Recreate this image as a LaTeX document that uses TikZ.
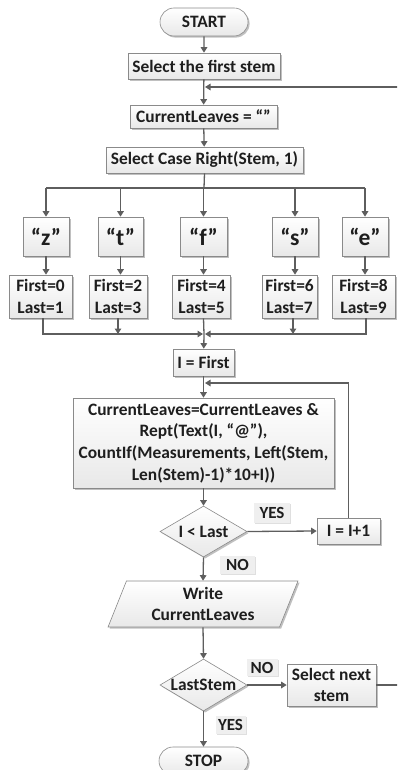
\documentclass[tikz,border=0pt]{standalone}
\usepackage{fontspec}
\setmainfont{Carlito}
\usetikzlibrary{arrows.meta,shapes.geometric,shapes.misc,shadows}
\definecolor{wire}{HTML}{5E5E5E}
\definecolor{edge}{HTML}{8A8A8A}
\definecolor{ink}{HTML}{1E1E1E}
\definecolor{tagfill}{HTML}{EFEFEF}
\tikzset{
  base/.style={draw=edge, line width=0.6pt, top color=white, bottom color=black!9,
    text=ink, font=\bfseries\fontsize{17.4}{21.7}\selectfont, align=center,
    inner sep=0pt,
    drop shadow={shadow xshift=1.6pt, shadow yshift=-1.6pt, fill=black!45, opacity=0.55}},
  proc/.style={base, rectangle},
  term/.style={base, rounded rectangle},
  decide/.style={base, diamond, aspect=1.7},
  io/.style={base, trapezium, trapezium left angle=70, trapezium right angle=110,
    trapezium stretches=true},
  quote/.style={proc, font=\bfseries\fontsize{23.5}{26}\selectfont},
  tag/.style={fill=tagfill, text=ink, inner sep=0pt, font=\bfseries\fontsize{17}{19}\selectfont,
    drop shadow={shadow xshift=1pt, shadow yshift=-1pt, fill=black!25, opacity=0.5}},
  flow/.style={draw=wire, line width=1.3pt, -{Triangle[width=6.5pt,length=5.5pt]}},
  wireline/.style={draw=wire, line width=1.3pt},
}
\begin{document}
\begin{tikzpicture}[x=1pt, y=-1pt]
\useasboundingbox (0,0) rectangle (397,770);
\begin{scope}
\clip (0,0) rectangle (397,770);

% main column
\node[term, minimum width=88, minimum height=28] (start) at (204,22) {START};
\node[proc, minimum width=152, minimum height=26] (first) at (204,66) {Select the first stem};
\node[proc, minimum width=147, minimum height=23] (curl) at (203.5,116.5) {CurrentLeaves = “”};
\node[proc, minimum width=197, minimum height=26] (selcase) at (204.5,160) {Select Case Right(Stem, 1)};

% case branches
\node[quote, minimum width=46, minimum height=39] (qz) at (46,236.5) {“z”};
\node[quote, minimum width=45, minimum height=39] (qt) at (120.5,236.5) {“t”};
\node[quote, minimum width=47, minimum height=39] (qf) at (203.5,236.5) {“f”};
\node[quote, minimum width=46, minimum height=39] (qs) at (295,236.5) {“s”};
\node[quote, minimum width=46, minimum height=39] (qe) at (365,236.5) {“e”};

\node[proc, minimum width=63, minimum height=43] (fz) at (40.5,296.5) {First=0\\Last=1};
\node[proc, minimum width=58, minimum height=43] (ft) at (118,296.5) {First=2\\Last=3};
\node[proc, minimum width=58, minimum height=43] (ff) at (201.5,296.5) {First=4\\Last=5};
\node[proc, minimum width=55, minimum height=43] (fs) at (289.5,296.5) {First=6\\Last=7};
\node[proc, minimum width=63, minimum height=43] (fe) at (363.5,296.5) {First=8\\Last=9};

% inner loop
\node[proc, minimum width=61, minimum height=27] (ifirst) at (203.5,362.5) {I = First};
\node[proc, minimum width=261, minimum height=90] (big) at (203.5,443)
  {CurrentLeaves=CurrentLeaves \&\\Rept(Text(I, “@”),\\CountIf(Measurements, Left(Stem,\\Len(Stem)-1)*10+I))};
\node[decide, minimum width=87, minimum height=51] (cmp) at (203.5,531.5) {I < Last};
\node[proc, minimum width=63, minimum height=26] (inc) at (348.5,531) {I = I+1};
\node[io, minimum width=190, minimum height=46] (write) at (203,604) {Write\\CurrentLeaves};
\node[decide, minimum width=87, minimum height=52] (last) at (203.5,685) {LastStem};
\node[proc, minimum width=89, minimum height=42] (next) at (331.5,685) {Select next\\stem};
\node[term, minimum width=89, minimum height=28] (stop) at (203.5,761) {STOP};

% branch labels
\node[tag, minimum width=36, minimum height=20] (yes1) at (272,512.5) {YES};
\node[tag, minimum width=35, minimum height=18] (no1) at (237.5,565) {NO};
\node[tag, minimum width=31, minimum height=17] (no2) at (262,667.5) {NO};
\node[tag, minimum width=30, minimum height=18] (yes2) at (230.5,725) {YES};

% junction points
\coordinate (loopin) at (204,87);
\coordinate (farright) at (399,685);
\coordinate (split) at (204,188);
\coordinate (splitL) at (46,188);
\coordinate (splitR) at (365,188);
\coordinate (merge) at (204,334);
\coordinate (incin) at (204,383);

% connectors
\draw[flow] (start) -- (first);
\draw[flow] (first) -- (curl);
\draw[flow] (next.east) -- (farright) |- ([xshift=1pt]loopin);
\draw[flow] (curl) -- (selcase);
\draw[wireline] (selcase.south) -- (split);
\draw[wireline] (splitL) -- (splitR);
\foreach \q in {qz,qt,qf,qs,qe}
  \draw[flow] (\q.north |- split) -- (\q.north);
\foreach \q/\f in {qz/fz,qt/ft,qf/ff,qs/fs,qe/fe}
  \draw[flow] (\q.south) -- (\q.south |- \f.north);
\draw[flow] ([xshift=2.5pt]fz.south) |- ([xshift=-1pt]merge);
\draw[flow] ([xshift=2.5pt]fe.south) |- ([xshift=1pt]merge);
\draw[flow] (ft.south) -- (ft.south |- merge);
\draw[flow] ([xshift=3.5pt]fs.south) -- ([xshift=3.5pt]fs.south |- merge);
\draw[wireline] (qf.south |- ff.south) -- (merge);
\draw[flow] (merge) -- (ifirst);
\draw[flow] (ifirst) -- (big);
\draw[flow] (inc.north) |- ([xshift=1pt]incin);
\draw[flow] (big) -- (cmp);
\draw[flow] (cmp.east) -- (inc.west);
\draw[flow] (cmp.south) -- (write.north);
\draw[flow] (write.south) -- (last.north);
\draw[flow] (last.east) -- (next.west);
\draw[flow] (last.south) -- (stop.north);
\end{scope}
\end{tikzpicture}
\end{document}
